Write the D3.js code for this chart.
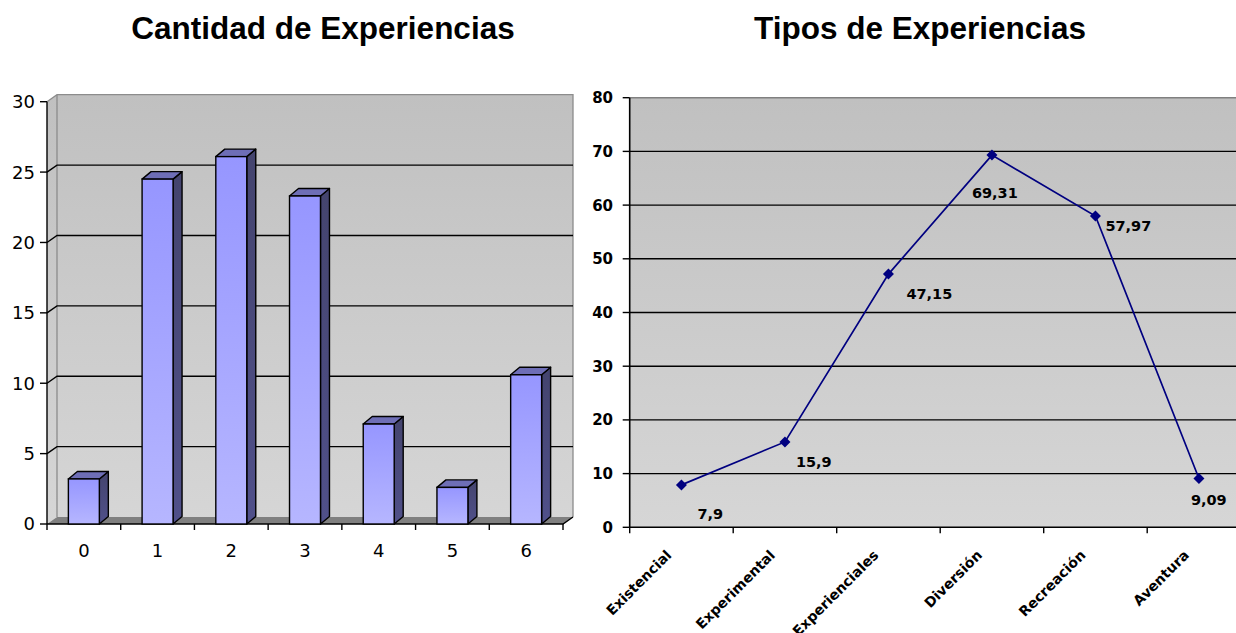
<!DOCTYPE html>
<html><head><meta charset="utf-8">
<script src="https://cdn.jsdelivr.net/npm/d3@7"></script>
<style>body{margin:0;background:#fff}</style>
</head><body>
<svg id="chart" width="1236" height="633"></svg>
<script>
// Left chart: how many experiences each person reported
const experienceCounts = ["0", "1", "2", "3", "4", "5", "6"];
const countValues = [3.2, 24.5, 26.1, 23.3, 7.1, 2.6, 10.6];
const countTicks = [0, 5, 10, 15, 20, 25, 30];

// Right chart: share per kind of experience
const experienceTypes = ["Existencial", "Experimental", "Experienciales", "Diversión", "Recreación", "Aventura"];
const typeValues = [7.9, 15.9, 47.15, 69.31, 57.97, 9.09];
const typeTicks = [0, 10, 20, 30, 40, 50, 60, 70, 80];

// pixel nudges for the value labels (x, y from the marker)
const labelNudge = [[16, 34], [11, 25], [18, 25], [-20, 43], [10, 15], [-8, 27]];

const svg = d3.select("#chart");
const defs = svg.append("defs");

function vGrad(id, y1, y2, c1, c2, units) {
  const g = defs.append("linearGradient").attr("id", id)
    .attr("x1", 0).attr("x2", 0);
  if (units) g.attr("gradientUnits", "userSpaceOnUse").attr("y1", y1).attr("y2", y2);
  else g.attr("y1", 0).attr("y2", 1);
  g.append("stop").attr("offset", 0).attr("stop-color", c1);
  g.append("stop").attr("offset", 1).attr("stop-color", c2);
}
vGrad("wallL", 95, 524, "#c0c0c0", "#d6d6d6", true);
vGrad("wallR", 97, 527, "#c0c0c0", "#d6d6d6", true);
vGrad("barFront", 0, 1, "#9696ff", "#b6b6ff", false);
vGrad("barSide", 0, 1, "#44446e", "#50508a", false);

const titleFont = "'Liberation Sans', Arial, sans-serif";
const axisFont = "'DejaVu Sans', Verdana, sans-serif";

// ---------- Cantidad de Experiencias (3D columns) ----------
const depth = { dx: 10, dy: -7 };
const xL = d3.scaleBand().domain(experienceCounts).range([47, 563]);
const yL = d3.scaleLinear().domain([0, 30]).range([524, 101.7]);
const gL = svg.append("g");

const x0 = xL.range()[0], x1 = xL.range()[1];
const yTop = yL(30), yBase = yL(0);

// side wall and back wall
gL.append("path")
  .attr("d", `M${x0},${yTop}L${x0 + depth.dx},${yTop + depth.dy}L${x0 + depth.dx},${yBase + depth.dy}L${x0},${yBase}Z`)
  .attr("fill", "url(#wallL)");
gL.append("rect")
  .attr("x", x0 + depth.dx).attr("y", yTop + depth.dy)
  .attr("width", x1 - x0).attr("height", yBase - yTop)
  .attr("fill", "url(#wallL)");
// wall edges
gL.append("path")
  .attr("d", `M${x0},${yTop}L${x0 + depth.dx},${yTop + depth.dy}L${x1 + depth.dx},${yTop + depth.dy}L${x1 + depth.dx},${yBase + depth.dy}M${x0 + depth.dx},${yTop + depth.dy}L${x0 + depth.dx},${yBase + depth.dy}`)
  .attr("fill", "none").attr("stroke", "#8c8c8c").attr("stroke-width", 1.3);
// floor
gL.append("path")
  .attr("d", `M${x0},${yBase}L${x0 + depth.dx},${yBase + depth.dy}L${x1 + depth.dx},${yBase + depth.dy}L${x1},${yBase}Z`)
  .attr("fill", "#808080");

// gridlines running along the side wall and across the back wall
gL.selectAll(".grid").data(countTicks.filter(t => t > 0 && t < 30)).join("path")
  .attr("d", t => `M${x0},${yL(t)}L${x0 + depth.dx},${yL(t) + depth.dy}L${x1 + depth.dx},${yL(t) + depth.dy}`)
  .attr("fill", "none").attr("stroke", "#000").attr("stroke-width", 1.4);

// axes
gL.append("line").attr("x1", x0).attr("x2", x0).attr("y1", yTop).attr("y2", yBase)
  .attr("stroke", "#000").attr("stroke-width", 1.4);
gL.append("path").attr("d", `M${x0},${yBase}L${x1},${yBase}L${x1 + depth.dx},${yBase + depth.dy}`)
  .attr("fill", "none").attr("stroke", "#000").attr("stroke-width", 1.4);
gL.selectAll(".ytick").data(countTicks).join("line")
  .attr("x1", x0 - 7).attr("x2", x0).attr("y1", d => yL(d)).attr("y2", d => yL(d))
  .attr("stroke", "#000").attr("stroke-width", 1.4);
gL.selectAll(".ylab").data(countTicks).join("text")
  .attr("x", 35).attr("y", d => yL(d)).attr("dy", "0.36em")
  .attr("text-anchor", "end").attr("font-family", axisFont).attr("font-size", 18)
  .text(d => d);
const bounds = experienceCounts.map(c => xL(c)).concat([x1]);
gL.selectAll(".xtick").data(bounds).join("line")
  .attr("x1", d => d).attr("x2", d => d).attr("y1", yBase).attr("y2", yBase + 6)
  .attr("stroke", "#000").attr("stroke-width", 1.4);
gL.selectAll(".xlab").data(experienceCounts).join("text")
  .attr("x", d => xL(d) + xL.bandwidth() / 2).attr("y", 557)
  .attr("text-anchor", "middle").attr("font-family", axisFont).attr("font-size", 18)
  .text(d => d);

// columns
const barW = xL.bandwidth() * 0.42;
const bd = { dx: 9, dy: -7.5 };
const bars = gL.selectAll(".bar").data(experienceCounts.map((c, i) => ({ c, v: countValues[i] }))).join("g");
bars.each(function (d) {
  const g = d3.select(this);
  const bx = xL(d.c) + (xL.bandwidth() - barW) / 2;
  const by = yL(d.v), bb = yL(0);
  g.append("path")
    .attr("d", `M${bx + barW},${by}L${bx + barW + bd.dx},${by + bd.dy}L${bx + barW + bd.dx},${bb + bd.dy}L${bx + barW},${bb}Z`)
    .attr("fill", "url(#barSide)").attr("stroke", "#000").attr("stroke-width", 1.4).attr("stroke-linejoin", "round");
  g.append("path")
    .attr("d", `M${bx},${by}L${bx + bd.dx},${by + bd.dy}L${bx + barW + bd.dx},${by + bd.dy}L${bx + barW},${by}Z`)
    .attr("fill", "#6e6eb6").attr("stroke", "#000").attr("stroke-width", 1.4).attr("stroke-linejoin", "round");
  g.append("rect").attr("x", bx).attr("y", by).attr("width", barW).attr("height", bb - by)
    .attr("fill", "url(#barFront)").attr("stroke", "#000").attr("stroke-width", 1.4);
});

svg.append("text").attr("x", 323).attr("y", 39).attr("text-anchor", "middle")
  .attr("font-family", titleFont).attr("font-weight", "bold").attr("font-size", 31.5)
  .text("Cantidad de Experiencias");

// ---------- Tipos de Experiencias (line) ----------
const xR = d3.scaleBand().domain(experienceTypes).range([629.7, 1250.7]);
const yR = d3.scaleLinear().domain([0, 80]).range([527.3, 97.7]);
const gR = svg.append("g");
const rx0 = xR.range()[0], rx1 = xR.range()[1];

gR.append("rect").attr("x", rx0).attr("y", yR(80))
  .attr("width", rx1 - rx0).attr("height", yR(0) - yR(80))
  .attr("fill", "url(#wallR)");
gR.selectAll(".grid").data(typeTicks.filter(t => t > 0)).join("line")
  .attr("x1", rx0).attr("x2", rx1).attr("y1", d => yR(d)).attr("y2", d => yR(d))
  .attr("stroke", d => d === 80 ? "#808080" : "#000").attr("stroke-width", 1.4);

gR.append("line").attr("x1", rx0).attr("x2", rx0).attr("y1", yR(80)).attr("y2", yR(0))
  .attr("stroke", "#000").attr("stroke-width", 1.6);
gR.append("line").attr("x1", rx0).attr("x2", rx1).attr("y1", yR(0)).attr("y2", yR(0))
  .attr("stroke", "#000").attr("stroke-width", 1.6);
gR.selectAll(".ytick").data(typeTicks).join("line")
  .attr("x1", rx0 - 7).attr("x2", rx0).attr("y1", d => yR(d)).attr("y2", d => yR(d))
  .attr("stroke", "#000").attr("stroke-width", 1.4);
gR.selectAll(".ylab").data(typeTicks).join("text")
  .attr("x", 613).attr("y", d => yR(d)).attr("dy", "0.36em")
  .attr("text-anchor", "end").attr("font-family", axisFont).attr("font-weight", "bold").attr("font-size", 15)
  .text(d => d);
gR.selectAll(".xtick").data(experienceTypes.map(c => xR(c))).join("line")
  .attr("x1", d => d).attr("x2", d => d).attr("y1", yR(0)).attr("y2", yR(0) + 6)
  .attr("stroke", "#000").attr("stroke-width", 1.4);
gR.selectAll(".xlab").data(experienceTypes).join("text")
  .attr("transform", d => `translate(${xR(d) + xR.bandwidth() / 2 - 9},556) rotate(-45)`)
  .attr("text-anchor", "end").attr("font-family", axisFont).attr("font-weight", "bold").attr("font-size", 14)
  .text(d => d);

const pts = experienceTypes.map((c, i) => ({ c, v: typeValues[i], x: xR(c) + xR.bandwidth() / 2, y: yR(typeValues[i]), n: labelNudge[i] }));
gR.append("path").datum(pts)
  .attr("d", d3.line().x(d => d.x).y(d => d.y))
  .attr("fill", "none").attr("stroke", "#000080").attr("stroke-width", 1.7);
gR.selectAll(".mark").data(pts).join("path")
  .attr("transform", d => `translate(${d.x},${d.y})`)
  .attr("d", "M0,-5.5L5.5,0L0,5.5L-5.5,0Z").attr("fill", "#000080");
gR.selectAll(".val").data(pts).join("text")
  .attr("x", d => d.x + d.n[0]).attr("y", d => d.y + d.n[1])
  .attr("font-family", axisFont).attr("font-weight", "bold").attr("font-size", 14.5)
  .text(d => String(d.v).replace(".", ","));

svg.append("text").attr("x", 920).attr("y", 39).attr("text-anchor", "middle")
  .attr("font-family", titleFont).attr("font-weight", "bold").attr("font-size", 31.5)
  .text("Tipos de Experiencias");
</script>
</body></html>
